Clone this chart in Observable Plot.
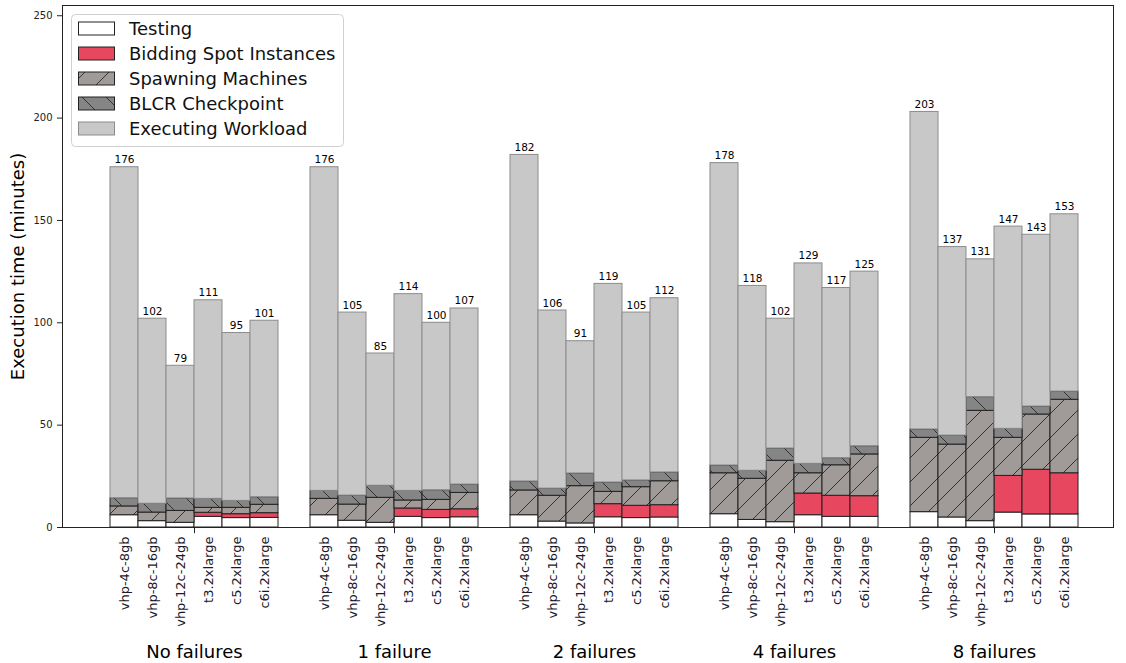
<!DOCTYPE html>
<html>
<head>
<meta charset="utf-8">
<script src="https://cdn.jsdelivr.net/npm/d3@7"></script>
<script src="https://cdn.jsdelivr.net/npm/@observablehq/plot@0.6"></script>
<style>
  body { margin: 0; background: #fff; font-family: "DejaVu Sans", sans-serif; }
  #wrap { position: relative; width: 1126px; height: 663px; }
  #legend { position: absolute; left: 71px; top: 14px; }
</style>
</head>
<body>
<svg width="0" height="0" style="position:absolute">
  <defs>
    <pattern id="hatchSpawn" patternUnits="userSpaceOnUse" width="24" height="24">
      <rect width="24" height="24" fill="#a09a98"/>
      <path d="M0,24 L24,0 M-6,6 L6,-6 M18,30 L30,18" stroke="#333" stroke-width="1"/>
    </pattern>
    <pattern id="hatchBlcr" patternUnits="userSpaceOnUse" width="24" height="24">
      <rect width="24" height="24" fill="#858585"/>
      <path d="M0,0 L24,24 M-6,18 L6,30 M18,-6 L30,6" stroke="#333" stroke-width="1"/>
    </pattern>
  </defs>
</svg>
<div id="wrap"></div>
<script>
// ---- data ----
const groups = ["No failures", "1 failure", "2 failures", "4 failures", "8 failures"];
const machines = ["vhp-4c-8gb", "vhp-8c-16gb", "vhp-12c-24gb", "t3.2xlarge", "c5.2xlarge", "c6i.2xlarge"];
const seriesNames = ["Testing", "Bidding Spot Instances", "Spawning Machines", "BLCR Checkpoint", "Executing Workload"];

const testing = [
  6.0, 3.1, 2.3, 5.2, 4.6, 4.7,
  6.0, 3.3, 2.3, 5.2, 4.6, 5.0,
  6.0, 2.9, 2.0, 5.0, 4.6, 4.9,
  6.5, 3.7, 2.6, 6.0, 5.2, 5.2,
  7.5, 4.9, 3.1, 7.3, 6.4, 6.4
];
const bidding = [
  0, 0, 0, 2.0, 1.9, 2.3,
  0, 0, 0, 4.1, 4.0, 3.9,
  0, 0, 0, 6.4, 6.0, 6.0,
  0, 0, 0, 10.6, 10.3, 10.1,
  0, 0, 0, 17.9, 21.8, 20.1
];
const spawning = [
  4.3, 4.2, 5.8, 2.4, 3.1, 4.1,
  8.0, 7.9, 12.2, 3.9, 4.9, 8.0,
  12.1, 12.6, 18.2, 6.0, 9.1, 11.7,
  20.0, 20.1, 30.0, 9.9, 14.9, 20.4,
  36.3, 35.6, 53.9, 18.6, 27.0, 35.9
];
const blcr = [
  4.0, 4.3, 6.1, 4.4, 3.4, 3.7,
  3.9, 4.4, 5.9, 4.7, 4.7, 4.1,
  4.4, 3.5, 6.2, 4.6, 3.3, 4.3,
  3.8, 3.9, 6.0, 4.6, 3.5, 4.0,
  4.1, 4.4, 6.7, 4.4, 3.9, 4.0
];
const executing = [
  161.7, 90.4, 64.8, 97.0, 82.0, 86.2,
  158.1, 89.4, 64.6, 96.1, 81.8, 86.0,
  159.5, 87.0, 64.6, 97.0, 82.0, 85.1,
  147.7, 90.3, 63.4, 97.9, 83.1, 85.3,
  155.1, 92.1, 67.3, 98.8, 83.9, 86.6
];
const totals = [
  176, 102, 79, 111, 95, 101,
  176, 105, 85, 114, 100, 107,
  182, 106, 91, 119, 105, 112,
  178, 118, 102, 129, 117, 125,
  203, 137, 131, 147, 143, 153
];
const yTicks = [0, 50, 100, 150, 200, 250];

// ---- styles ----
const fills = ["#ffffff", "#e8485f", "url(#hatchSpawn)", "url(#hatchBlcr)", "#c8c8c8"];
const strokes = ["#222", "#222", "#222", "#222", "#8c8c8c"];
const barW = 0.14;

// ---- build table ----
const rows = [];
groups.forEach((g, gi) => machines.forEach((m, mi) => {
  const k = gi * 6 + mi;
  const vals = [testing[k], bidding[k], spawning[k], blcr[k], executing[k]];
  let acc = 0;
  const segs = vals.map(v => { const s = [acc, acc + v]; acc += v; return s; });
  rows.push({group: g, gi, machine: m, c: gi + (mi - 2.5) * barW, segs, total: totals[k]});
}));

const segMarks = seriesNames.map((s, si) => Plot.rect(rows.filter(d => d.segs[si][1] > d.segs[si][0]), {
  x1: d => d.c - barW / 2,
  x2: d => d.c + barW / 2,
  y1: d => d.segs[si][0],
  y2: d => d.segs[si][1],
  fill: fills[si],
  stroke: strokes[si],
  strokeWidth: 1
}));

const chart = Plot.plot({
  width: 1126,
  height: 663,
  marginLeft: 62,
  marginRight: 13,
  marginTop: 5,
  marginBottom: 136,
  style: {fontFamily: "DejaVu Sans", fontSize: "12px", color: "#000", background: "#fff"},
  x: {domain: [-0.66, 4.595], axis: null},
  y: {domain: [0, 255], axis: null},
  marks: [
    ...segMarks,
    Plot.text(rows, {x: "c", y: "total", text: d => String(d.total), dy: -4, lineAnchor: "bottom", fontSize: 10.5, fill: "#000"}),
    Plot.frame({stroke: "#222"}),
    Plot.axisY({ticks: yTicks, tickSize: 5, tickPadding: 5, fontSize: 10, label: null, stroke: "#222", fill: "#222"}),
    Plot.text(["Execution time (minutes)"], {frameAnchor: "left", rotate: -90, dx: -44, textAnchor: "middle", lineAnchor: "middle", fontSize: 18, fill: "#000"}),
    Plot.text(rows, {x: "c", y: () => 0, text: "machine", rotate: -90, textAnchor: "end", lineAnchor: "middle", dy: 9, fontSize: 13, fill: "#1a1a2a"}),
    Plot.ruleX(groups, {x: (d, i) => i, y1: () => 0, y2: () => -3, stroke: "#222"}),
    Plot.text(groups, {x: (d, i) => i, y: () => 0, text: d => d, dy: 125, lineAnchor: "middle", fontSize: 18, fill: "#000"})
  ]
});
document.getElementById("wrap").appendChild(chart);

// ---- legend ----
const lw = 273, lh = 133;
const leg = d3.create("svg").attr("id", "legend").attr("width", lw).attr("height", lh);
leg.append("rect").attr("x", 0.5).attr("y", 0.5).attr("width", lw - 1).attr("height", lh - 1)
  .attr("rx", 4).attr("fill", "rgba(255,255,255,0.85)").attr("stroke", "#d0d0d0");
seriesNames.forEach((s, i) => {
  const cy = 15 + i * 25;
  leg.append("rect").attr("x", 7.5).attr("y", cy - 7).attr("width", 36).attr("height", 13)
    .attr("fill", fills[i]).attr("stroke", strokes[i]);
  leg.append("text").attr("x", 58).attr("y", cy).attr("dy", "0.35em")
    .attr("font-family", "DejaVu Sans").attr("font-size", 18).attr("fill", "#111").text(s);
});
document.getElementById("wrap").appendChild(leg.node());
</script>
</body>
</html>
